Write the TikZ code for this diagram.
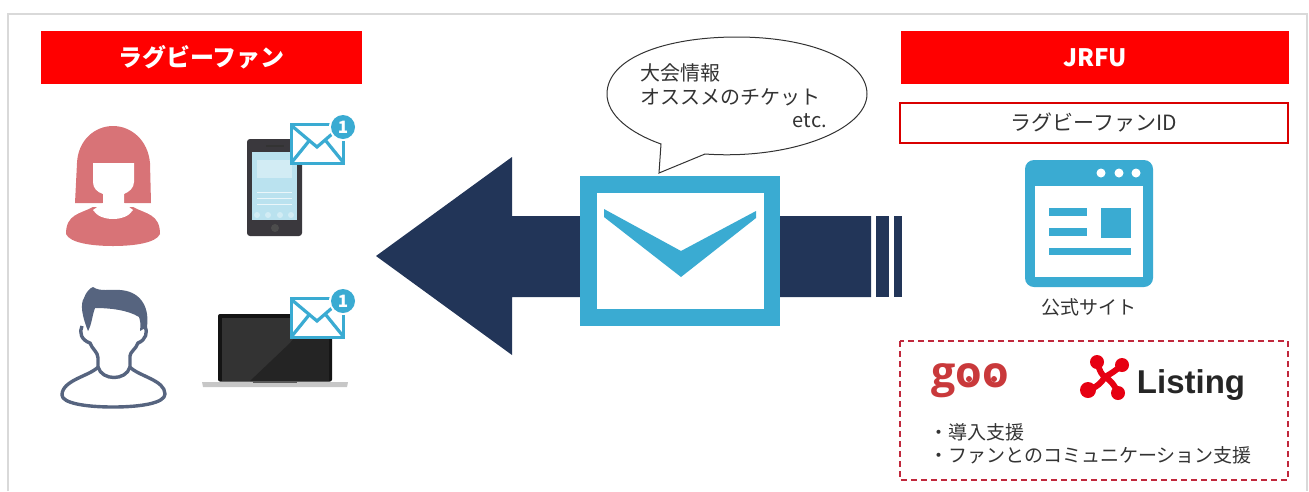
\documentclass[tikz,border=0pt]{standalone}
\usepackage{fontspec}
\setmainfont{Noto Sans CJK JP}
\newfontfamily\gooface{Open Sans}
\newfontfamily\listface{Liberation Sans}
\usepackage{xcolor}
\definecolor{navy}{HTML}{223558}
\definecolor{sky}{HTML}{3AABD2}
\definecolor{rose}{HTML}{D87377}
\definecolor{slate}{HTML}{56647F}
\definecolor{dashred}{HTML}{C0283C}
\definecolor{gooread}{HTML}{C9393B}
\definecolor{listred}{HTML}{E60012}
\definecolor{inktext}{HTML}{333333}
\definecolor{phonebody}{HTML}{3A383D}

\tikzset{
    header/.style = {fill=red, text=white, font=\fontsize{24}{28}\selectfont\bfseries, inner sep=0pt, minimum height=53pt},
    label/.style = {text=inktext, inner sep=0pt, font=\fontsize{20}{24}\selectfont},
    mailicon/.pic = {
        \fill[white] (0,0) rectangle (55,42);
        \draw[sky, line width=3.2pt, line join=miter] (44,1.6) -- (1.6,1.6) -- (1.6,40.4) -- (53.4,40.4) -- (53.4,14);
        \draw[sky, line width=3.2pt] (2,3) -- (27,24) -- (42,11);
        \draw[sky, line width=3.2pt] (2,39) -- (19,18);
        \draw[sky, line width=3.2pt] (53,39) -- (36,18);
        \fill[white] (53,4) circle (14);
        \fill[sky] (53,4) circle (12);
        \node[text=white, inner sep=0pt, font=\fontsize{17}{17}\selectfont\bfseries] at (53,4) {1};
    }
}

\begin{document}
\begin{tikzpicture}[x=1pt, y=-1pt]
    \useasboundingbox (0,0) rectangle (1309,491);
    % outer frame
    \draw[black!15, line width=1.6pt] (8,491) -- (8,14) -- (1307,14) -- (1307,491);

    % headers
    \node[header, minimum width=321pt] (fan) at (201.5,57.5) {ラグビーファン};
    \node[header, minimum width=388pt] (jrfu) at (1095,57.5) {JRFU};
    \node[draw=red!85!black, line width=1.3pt, label, font=\fontsize{21}{25}\selectfont, minimum width=388pt, minimum height=40pt] (fanid) at (1094,123) {ラグビーファンID};

    % woman
    \fill[rose] (75,203) -- (77,163) .. controls (78,140) and (95,126) .. (113,126)
        .. controls (131,126) and (148,140) .. (150,163) -- (151,203) -- (124,203) -- (102,203) -- cycle;
    \fill[rose] (93,207) .. controls (80,214) and (66,214) .. (66,234)
        .. controls (70,243) and (92,246) .. (113,246) .. controls (134,246) and (156,243) .. (160,234)
        .. controls (160,214) and (146,214) .. (133,207) -- cycle;
    \fill[white] (93,163) -- (134,163) -- (134,182) .. controls (134,188) and (129,192) .. (124,194)
        -- (124,203) -- (133,210) .. controls (126,222) and (100,222) .. (93,210) -- (103,203) -- (103,194)
        .. controls (97,192) and (93,188) .. (93,182) -- cycle;

    % man
    \draw[slate, line width=3.4pt, line join=round] (82,326) .. controls (79,332) and (81,340) .. (90,343)
        .. controls (92,349) and (98,352) .. (98,358) -- (98,367)
        .. controls (90,376) and (62,380) .. (62,395) .. controls (62,403) and (85,407) .. (113,407)
        .. controls (141,407) and (165,403) .. (165,394) .. controls (165,380) and (138,376) .. (130,367)
        -- (130,356) .. controls (130,352) and (136,349) .. (138,343)
        .. controls (146,340) and (148,332) .. (145,326);
    \draw[slate, line width=3.4pt] (98,367) .. controls (102,381) and (126,381) .. (130,367);
    \fill[slate] (88,331) .. controls (82,316) and (80,304) .. (84,298) .. controls (86,292) and (90,288) .. (93,287)
        .. controls (100,292) and (110,289) .. (120,290) .. controls (138,291) and (150,304) .. (147,327)
        -- (140,331) .. controls (141,324) and (140,320) .. (139,317) .. controls (128,310) and (110,308) .. (95,308)
        .. controls (92,316) and (92,324) .. (88,331) -- cycle;

    % phone
    \fill[phonebody, rounded corners=3pt] (247,139) rectangle (302,236);
    \fill[sky!35!white] (252,152) rectangle (297,220);
    \fill[white, opacity=.35] (257,160) rectangle (292,178);
    \foreach \yy in {192,198,204} {
        \fill[white, opacity=.7] (257,\yy) rectangle (292,\yy+1);
    }
    \foreach \xx in {257,268,280,291} {
        \fill[white, opacity=.35] (\xx,215) circle (3);
    }
    \fill[black!80] (266,145) rectangle (284,146.5);
    \fill[black!70] (275,228) circle (4);
    \pic at (290,123) {mailicon};

    % laptop
    \fill[black!92, rounded corners=2pt] (218,314) rectangle (332,381.5);
    \fill[black!80] (222,318) rectangle (329,381);
    \fill[black!86] (250,381) -- (290,343) -- (310,318) -- (329,318) -- (329,381) -- cycle;
    \fill[black!22] (202,382) -- (348,382) -- (347,387) -- (203,387) -- cycle;
    \fill[black!65] (253,381) rectangle (297,383);
    \pic at (290,297) {mailicon};

    % big arrow
    \fill[navy] (376,256) -- (512,157) -- (512,216) -- (871,216) -- (871,297) -- (512,297) -- (512,355) -- cycle;
    \fill[navy] (876,216) rectangle (889,297);
    \fill[navy] (894,216) rectangle (902,297);

    % envelope
    \fill[sky] (580,176) rectangle (780,326);
    \fill[white] (597,193) rectangle (764,309);
    \fill[sky] (604,209) -- (681,251) -- (756,211) -- (756,218) -- (681,277) -- (604,217) -- cycle;

    % speech bubble
    \draw[fill=white, draw=black!80, line width=1pt] (661,144) .. controls (630,133) and (607,115) .. (607,94)
        .. controls (607,58) and (665,37) .. (737,37) .. controls (810,37) and (867,60) .. (867,94)
        .. controls (867,130) and (790,160) .. (705,154) -- (659,173) -- cycle;
    \node[label, anchor=west] (info1) at (640,73) {大会情報};
    \node[label, anchor=west] (info2) at (640,97) {オススメのチケット};
    \node[label, anchor=east] (info3) at (827,121) {etc.};

    % official site window
    \fill[sky, rounded corners=9pt] (1025,160) rectangle (1153,287);
    \fill[white] (1035,186) rectangle (1143,277);
    \foreach \xx in {1101,1119,1136} {
        \fill[white] (\xx,173) circle (4.5);
    }
    \fill[sky] (1049,208) rectangle (1087,216);
    \fill[sky] (1049,228) rectangle (1087,236);
    \fill[sky] (1101,208) rectangle (1131,238);
    \fill[sky] (1049,248) rectangle (1131,255);
    \node[label, font=\fontsize{19}{23}\selectfont] (site) at (1089,307) {公式サイト};

    % partners
    \draw[dashred, line width=1.3pt, dash pattern=on 6pt off 4pt] (900,341) rectangle (1288,480);
    \node[inner sep=0pt, anchor=base, text=gooread, font=\fontsize{43}{43}\gooface\bfseries] (goo) at (970,387) {goo};
    \fill[gooread] (969,379) circle (3) (994,379) circle (3);
    \draw[listred, line width=6pt] (1097,362) .. controls (1100,372) and (1102,375) .. (1105,377);
    \draw[listred, line width=6pt] (1122,365) .. controls (1114,372) and (1110,374) .. (1105,377);
    \draw[listred, line width=6pt] (1088,390) .. controls (1096,388) and (1102,382) .. (1105,377);
    \draw[listred, line width=6pt] (1118,393) .. controls (1114,384) and (1110,380) .. (1105,377);
    \fill[listred] (1097,362) circle (7) (1122,365) circle (7) (1088,390) circle (8) (1118,393) circle (7);
    \node[inner sep=0pt, anchor=base, text=black!85, font=\fontsize{33}{33}\listface\bfseries] (listing) at (1191,393) {Listing};
    \node[label, anchor=west, font=\fontsize{19}{23}\selectfont] (task1) at (929,432) {・導入支援};
    \node[label, anchor=west, font=\fontsize{19}{23}\selectfont] (task2) at (929,455) {・ファンとのコミュニケーション支援};
\end{tikzpicture}
\end{document}
